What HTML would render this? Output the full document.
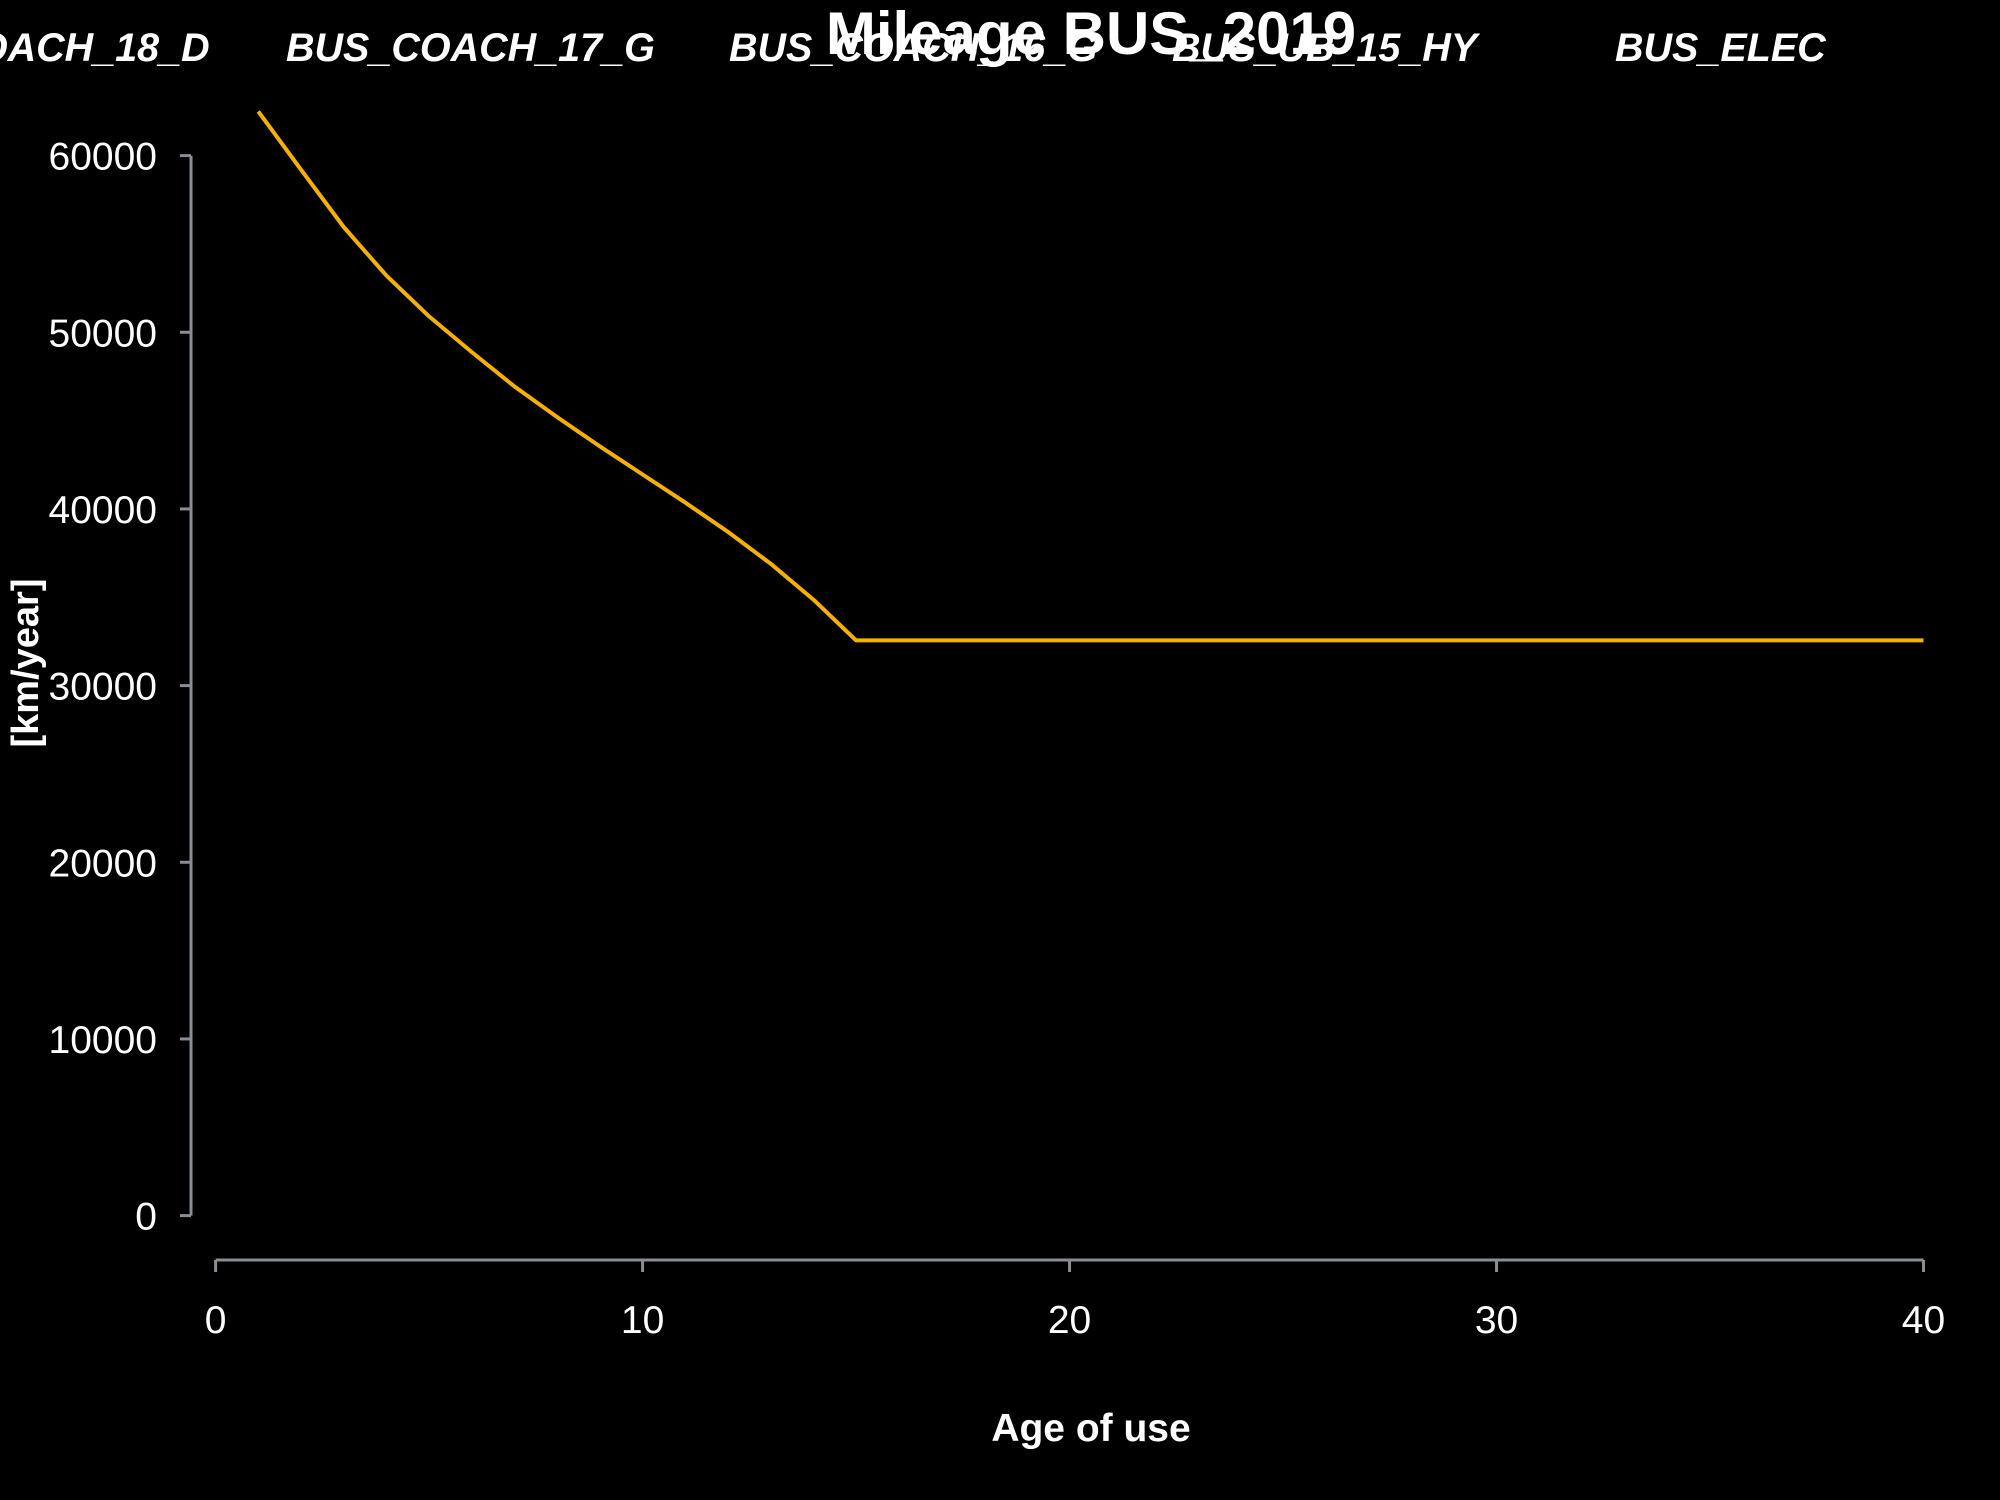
<!DOCTYPE html>
<html><head><meta charset="utf-8"><style>
html,body{margin:0;padding:0;background:#000;}
svg{display:block;font-family:"Liberation Sans",sans-serif;}
</style></head><body>
<svg id="chart" width="2000" height="1500" viewBox="0 0 2000 1500">
<rect width="2000" height="1500" fill="#000"/>
<g id="legend"></g>
<text x="1091" y="54" text-anchor="middle" font-size="60" font-weight="bold" fill="#fff">Mileage BUS_2019</text>
<g id="yaxis"></g>
<g id="xaxis"></g>
<text transform="translate(38,663) rotate(-90)" text-anchor="middle" font-size="38" font-weight="bold" fill="#fff">[km/year]</text>
<text x="1091" y="1441" text-anchor="middle" font-size="39" font-weight="bold" fill="#fff">Age of use</text>
<g id="series"></g>
</svg>
<script>
const legendLabels = ["BUS_COACH_18_D","BUS_COACH_17_G","BUS_COACH_16_G","BUS_UB_15_HY","BUS_ELEC"];
const ages = [1,2,3,4,5,6,7,8,9,10,11,12,13,14,15,40];
const mileage = [62500,59200,55960,53210,50900,48880,46930,45200,43540,41950,40360,38700,36900,34870,32560,32560];
const yTicks = [0,10000,20000,30000,40000,50000,60000];
const xTicks = [0,10,20,30,40];

const NS = "http://www.w3.org/2000/svg";
function X(v){ return 215.6 + (v/40)*(1923.5-215.6); }
function Y(v){ return 1215.6 - (v/60000)*(1215.6-155.6); }
function mk(tag, attrs, parent){ const e=document.createElementNS(NS,tag); for(const k in attrs) e.setAttribute(k,attrs[k]); parent.appendChild(e); return e; }

const lg = document.getElementById('legend');
legendLabels.forEach((t,i)=>{
  const e = mk('text',{x:-157+i*443, y:61, 'font-size':39.5, 'font-weight':'bold', 'font-style':'italic', fill:'#fff'}, lg);
  
  
  e.textContent = t;
});

const ya = document.getElementById('yaxis');
const yl = mk('line',{x1:191,x2:191,y1:Y(60000),y2:Y(0),stroke:'#8a8d93','stroke-width':3},ya);


yTicks.forEach(v=>{
  const t = mk('line',{x1:180,x2:191,y1:Y(v),y2:Y(v),stroke:'#8a8d93','stroke-width':3},ya);
  
  
  const l = mk('text',{x:157,y:Y(v)+14,'text-anchor':'end','font-size':39,fill:'#fff'},ya);
  
  
  l.textContent = v;
});

const xa = document.getElementById('xaxis');
const xl = mk('line',{x1:X(0),x2:X(40),y1:1260,y2:1260,stroke:'#8a8d93','stroke-width':3},xa);


xTicks.forEach(v=>{
  const t = mk('line',{x1:X(v),x2:X(v),y1:1260,y2:1272,stroke:'#8a8d93','stroke-width':3},xa);
  
  
  const l = mk('text',{x:X(v),y:1333,'text-anchor':'middle','font-size':39,fill:'#fff'},xa);
  
  
  l.textContent = v;
});

const sg = document.getElementById('series');
const pts = ages.map((a,i)=>X(a).toFixed(1)+','+Y(mileage[i]).toFixed(1)).join(' ');
const pl = mk('polyline',{points:pts,fill:'none',stroke:'#f5b000','stroke-width':4,'stroke-linejoin':'round'},sg);


</script>
</body></html>
